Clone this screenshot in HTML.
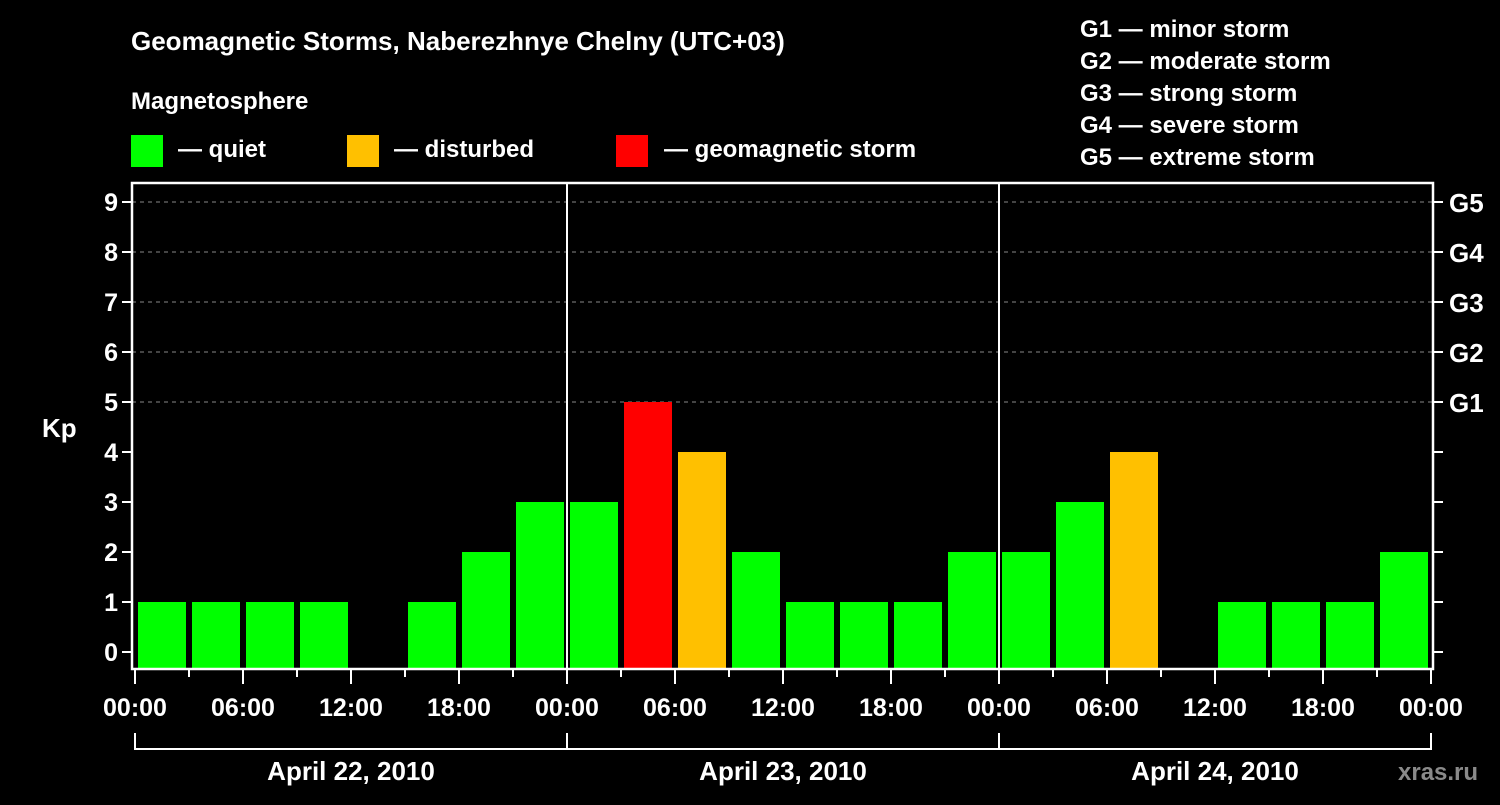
<!DOCTYPE html>
<html><head><meta charset="utf-8"><style>
body{margin:0;background:#000;width:1500px;height:800px;overflow:hidden}
svg text{font-family:"Liberation Sans",Arial,sans-serif;font-weight:bold;fill:#fff}
</style></head><body>
<svg id="c" width="1500" height="800" xmlns="http://www.w3.org/2000/svg">
<text x="131" y="50" font-size="26">Geomagnetic Storms, Naberezhnye Chelny (UTC+03)</text>
<text x="131" y="109" font-size="24">Magnetosphere</text>
<g><rect x="131" y="135" width="32" height="32" fill="#00ff00"/><text x="178" y="157" font-size="24">— quiet</text></g>
<g><rect x="347" y="135" width="32" height="32" fill="#ffc000"/><text x="394" y="157" font-size="24">— disturbed</text></g>
<g><rect x="616" y="135" width="32" height="32" fill="#ff0000"/><text x="664" y="157" font-size="24">— geomagnetic storm</text></g>
<g font-size="24">
<text x="1080" y="37">G1 — minor storm</text><text x="1080" y="69">G2 — moderate storm</text><text x="1080" y="101">G3 — strong storm</text><text x="1080" y="133">G4 — severe storm</text><text x="1080" y="165">G5 — extreme storm</text>
</g>
<text x="42" y="437" font-size="26">Kp</text>
<text x="1398" y="780" font-size="24" fill="#888" style="fill:#8a8a8a">xras.ru</text>
<g id="g"></g>
</svg>
<script>
const values=[1,1,1,1,0,1,2,3, 3,5,4,2,1,1,1,2, 2,3,4,0,1,1,1,2];
const dayLabels=["April 22, 2010","April 23, 2010","April 24, 2010"];
const timeLabels=["00:00","06:00","12:00","18:00","00:00","06:00","12:00","18:00","00:00","06:00","12:00","18:00","00:00"];
const gLabels=["G1","G2","G3","G4","G5"];
const kpTicks=[0,1,2,3,4,5,6,7,8,9];
const NS="http://www.w3.org/2000/svg",g=document.getElementById('g');
const X0=135,SLOT=54,Y0=652,U=50,BASE=668,LEFT=132,RIGHT=1433,TOP=183;
const xs=i=>X0+i*SLOT, ys=v=>Y0-v*U;
function el(t,a,txt){const e=document.createElementNS(NS,t);for(const k in a)e.setAttribute(k,a[k]);if(txt!==undefined)e.textContent=txt;g.appendChild(e);return e;}
kpTicks.forEach(k=>{
 if(k>=5){const l=el('line',{x1:LEFT,x2:RIGHT,y1:ys(k),y2:ys(k),stroke:'#888','stroke-dasharray':'4,4','stroke-width':1});
 
 }
 const t=el('line',{x1:LEFT-10,x2:LEFT,y1:ys(k),y2:ys(k),stroke:'#fff','stroke-width':2});
 
 
 const r=el('line',{x1:RIGHT,x2:RIGHT+10,y1:ys(k),y2:ys(k),stroke:'#fff','stroke-width':2});
 
 
 const tx=el('text',{x:LEFT-14,y:ys(k)+9,'font-size':25,'text-anchor':'end'},String(k));
 
 
});
gLabels.forEach((s,i)=>{const t=el('text',{x:1449,y:ys(i+5)+10,'font-size':26},s);
 
 });
values.forEach((v,i)=>{
 if(v<=0)return;
 const c=v>=5?'#ff0000':(v>=4?'#ffc000':'#00ff00');
 const b=el('rect',{x:xs(i)+3,y:ys(v),width:48,height:BASE-ys(v),fill:c});
 
 
});
for(let d=1;d<dayLabels.length;d++){const l=el('line',{x1:xs(d*8),x2:xs(d*8),y1:TOP,y2:BASE,stroke:'#fff','stroke-width':2});
 
 }
const fr=el('path',{d:`M${LEFT} ${TOP} L${RIGHT} ${TOP} L${RIGHT} ${BASE+1} L${LEFT} ${BASE+1} Z`,fill:'none',stroke:'#fff','stroke-width':2.5});


for(let i=0;i<=values.length;i++){
 const long=i%2==0;
 const t=el('line',{x1:xs(i),x2:xs(i),y1:BASE,y2:BASE+(long?16:9),stroke:'#fff','stroke-width':2});
 
 
 if(long){const tx=el('text',{x:xs(i),y:716,'font-size':25,'text-anchor':'middle'},timeLabels[i/2]);
  
  }
}
const br=el('path',{d:`M${xs(0)} 733 L${xs(0)} 749 L${xs(values.length)} 749 L${xs(values.length)} 733`+dayLabels.slice(1).map((_,d)=>` M${xs((d+1)*8)} 733 L${xs((d+1)*8)} 749`).join(''),fill:'none',stroke:'#fff','stroke-width':2});


dayLabels.forEach((s,d)=>{const t=el('text',{x:xs(d*8+4),y:780,'font-size':26,'text-anchor':'middle'},s);
 
 });
</script>
</body></html>
